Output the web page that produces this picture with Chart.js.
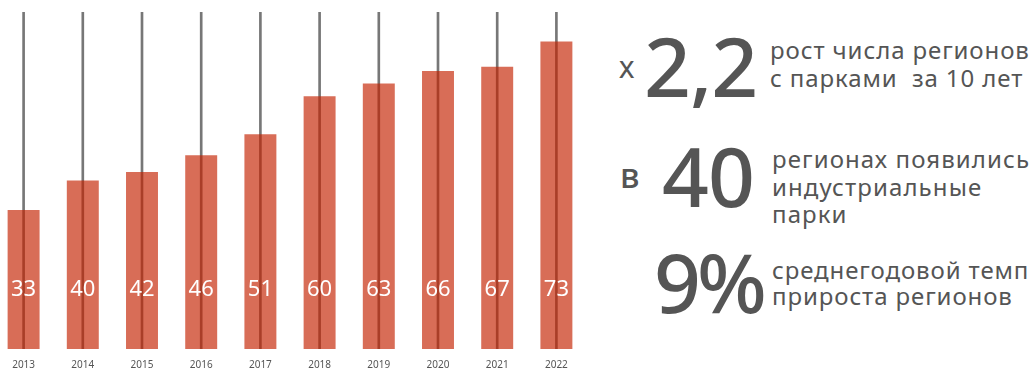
<!DOCTYPE html>
<html lang="ru">
<head>
  <meta charset="UTF-8" />
  <title>Регионы с индустриальными парками</title>
  <script src="https://cdn.jsdelivr.net/npm/chart.js"></script>
  <style>
    body {
      margin: 0;
      width: 1036px;
      height: 369px;
      overflow: hidden;
      background: #fff;
      font-family: 'Noto Sans', sans-serif;
      color: #555;
      position: relative;
    }
    #chartBox {
      position: absolute;
      left: -6px;
      top: 0;
      width: 592px;
      height: 369px;
    }
    .t { position: absolute; white-space: nowrap; line-height: 1; }
    .big { font-size: 82px; font-weight: 500; letter-spacing: -1px; }
    .desc { font-size: 24px; letter-spacing: 0.9px; }
    .wide { letter-spacing: 1.1px; }
  </style>
</head>
<body>
  <div id="chartBox"><canvas id="regionsChart"></canvas></div>

  <div class="t" style="left:619px; top:52px; font-size:30px;">х</div>
  <div class="t big" style="left:644px; top:24px;">2,2</div>
  <div class="t desc" style="left:770px; top:38px;">рост числа регионов</div>
  <div class="t desc" style="left:770px; top:66px;">с парками&nbsp; за 10 лет</div>

  <div class="t" style="left:620px; top:158px; font-size:34px; font-weight:500;">в</div>
  <div class="t big" style="left:662px; top:134px;">40</div>
  <div class="t desc wide" style="left:772px; top:147px;">регионах появились</div>
  <div class="t desc wide" style="left:772px; top:175px;">индустриальные</div>
  <div class="t desc wide" style="left:772px; top:202px;">парки</div>

  <div class="t big" style="left:654px; top:240px; letter-spacing:-4px;">9%</div>
  <div class="t desc" style="left:772px; top:258px;">среднегодовой темп</div>
  <div class="t desc" style="left:772px; top:284px;">прироста регионов</div>

  <script>
    const years = ['2013', '2014', '2015', '2016', '2017', '2018', '2019', '2020', '2021', '2022'];
    const regions = [33, 40, 42, 46, 51, 60, 63, 66, 67, 73];
    const guideTop = [80, 80, 80, 80, 80, 80, 80, 80, 80, 80];

    // white value labels sit at a fixed height inside the bars
    const valueLabels = {
      id: 'valueLabels',
      afterDatasetsDraw(chart) {
        const ctx = chart.ctx;
        const meta = chart.getDatasetMeta(1);
        const y = chart.scales.y.getPixelForValue(14);
        ctx.save();
        ctx.fillStyle = '#ffffff';
        ctx.font = '22px "Noto Sans", sans-serif';
        ctx.textAlign = 'center';
        ctx.textBaseline = 'middle';
        meta.data.forEach((bar, i) => {
          ctx.fillText(String(regions[i]), bar.x, y);
        });
        ctx.restore();
      }
    };

    new Chart(document.getElementById('regionsChart'), {
      type: 'bar',
      data: {
        labels: years,
        datasets: [
          {
            data: guideTop,
            backgroundColor: '#777777',
            barThickness: 2,
            grouped: false,
            order: 2
          },
          {
            data: regions,
            backgroundColor: 'rgba(196,34,0,0.66)',
            categoryPercentage: 1,
            barPercentage: 0.54,
            grouped: false,
            order: 1
          }
        ]
      },
      options: {
        responsive: true,
        maintainAspectRatio: false,
        animation: false,
        layout: { padding: { top: 12, left: 0, right: 0, bottom: 0 } },
        plugins: {
          legend: { display: false },
          tooltip: { enabled: false }
        },
        scales: {
          y: { display: false, min: 0, max: 80 },
          x: {
            grid: { display: false },
            border: { display: false },
            afterFit: (scale) => { scale.height = 20; },
            ticks: {
              color: '#555',
              padding: 2,
              font: { size: 10, family: '"Noto Sans", sans-serif' }
            }
          }
        }
      },
      plugins: [valueLabels]
    });
  </script>
</body>
</html>
